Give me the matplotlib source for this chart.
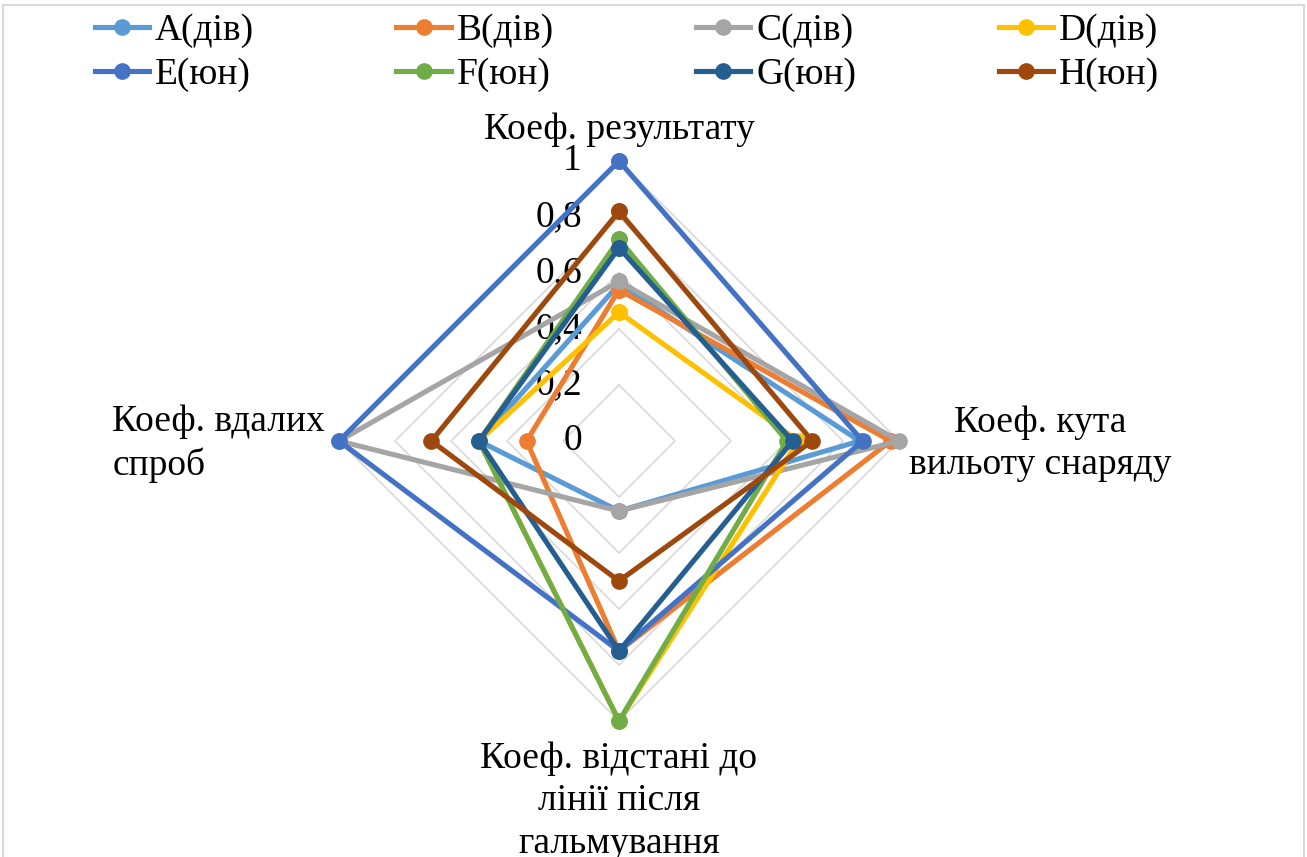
import numpy as np
import matplotlib
matplotlib.use("Agg")
import matplotlib.pyplot as plt
from matplotlib.lines import Line2D
from matplotlib.patches import Rectangle

plt.rcParams['font.family'] = ['Liberation Serif', 'DejaVu Serif']

categories = ["Коеф. результату",
              "Коеф. кута\nвильоту снаряду",
              "Коеф. відстані до\nлінії після\nгальмування",
              "Коеф. вдалих\nспроб"]
series_names = ["A(дів)", "B(дів)", "C(дів)", "D(дів)",
                "E(юн)", "F(юн)", "G(юн)", "H(юн)"]

a_div = [0.56, 0.86, 0.25, 0.50]
b_div = [0.54, 0.97, 0.75, 0.33]
c_div = [0.57, 1.00, 0.25, 1.00]
d_div = [0.46, 0.64, 1.00, 0.50]
e_yun = [1.00, 0.87, 0.75, 1.00]
f_yun = [0.72, 0.60, 1.00, 0.50]
g_yun = [0.69, 0.62, 0.75, 0.50]
h_yun = [0.82, 0.69, 0.50, 0.67]
series_values = [a_div, b_div, c_div, d_div, e_yun, f_yun, g_yun, h_yun]

colors = ["#5B9BD5", "#ED7D31", "#A5A5A5", "#FFC000",
          "#4472C4", "#70AD47", "#255E91", "#9E480E"]

r_ticks = [0, 0.2, 0.4, 0.6, 0.8, 1.0]
r_tick_labels = ["0", "0,2", "0,4", "0,6", "0,8", "1"]

FS = 27
LW = 3.7
MS = 11

W, H = 1307, 857
fig = plt.figure(figsize=(W / 100, H / 100), dpi=100)
fig.patches.append(Rectangle((3 / W, -0.01), (W - 6) / W, 1 - 5 / H + 0.01,
                             transform=fig.transFigure, fill=False,
                             edgecolor="#d9d9d9", linewidth=1.5))

cx, cy, R = 619, 441, 280
ax = fig.add_axes([(cx - R) / W, (H - cy - R) / H, 2 * R / W, 2 * R / H],
                  projection="polar")
ax.set_theta_offset(np.pi / 2)
ax.set_theta_direction(-1)
ax.set_ylim(0, 1)
ax.grid(False)
ax.spines["polar"].set_visible(False)
ax.set_xticks([])
ax.set_yticks([])
ax.patch.set_alpha(0)

n = len(categories)
theta = np.arange(n) * 2 * np.pi / n
theta_closed = np.append(theta, theta[0])

# polygonal grid rings
for r in r_ticks[1:]:
    ax.plot(theta_closed, [r] * (n + 1), color="#d9d9d9", lw=1.2, zorder=1)

# radial scale labels along the upper spoke
for r, lab in zip(r_ticks, r_tick_labels):
    ax.annotate(lab, xy=(0, r), xytext=(-37, 0), textcoords="offset pixels",
                ha="right", va="center", fontsize=FS, annotation_clip=False)

for i, (vals, col) in enumerate(zip(series_values, colors)):
    v = np.append(vals, vals[0])
    ax.plot(theta_closed, v, color=col, lw=LW, marker="o", markersize=MS,
            zorder=3 + i, solid_joinstyle="miter", clip_on=False)

# category labels
ax.annotate(categories[0], xy=(theta[0], 1), xytext=(0, 31),
            textcoords="offset pixels", ha="center", va="center",
            fontsize=FS, annotation_clip=False)
ax.annotate(categories[1], xy=(theta[1], 1), xytext=(141, -3),
            textcoords="offset pixels", ha="center", va="center",
            fontsize=FS, multialignment="center", linespacing=1.3,
            annotation_clip=False)
ax.annotate(categories[2], xy=(theta[2], 1), xytext=(0, -80),
            textcoords="offset pixels", ha="center", va="center",
            fontsize=FS, multialignment="center", linespacing=1.3,
            annotation_clip=False)
ax.annotate(categories[3], xy=(theta[3], 1), xytext=(-14, -3),
            textcoords="offset pixels", ha="right", va="center",
            fontsize=FS, multialignment="left", linespacing=1.3,
            annotation_clip=False)

handles = [Line2D([], [], color=c, lw=LW, marker="o", markersize=MS)
           for c in colors]
order = [0, 4, 1, 5, 2, 6, 3, 7]
fig.legend([handles[i] for i in order], [series_names[i] for i in order],
           ncol=4, loc="upper left", bbox_to_anchor=(91 / W, 1 - 10 / H),
           frameon=False, fontsize=FS, handlelength=1.45, handletextpad=0.15,
           columnspacing=3.8, labelspacing=0.25, borderaxespad=0,
           borderpad=0.1)

fig.savefig("out.png", dpi=100)
